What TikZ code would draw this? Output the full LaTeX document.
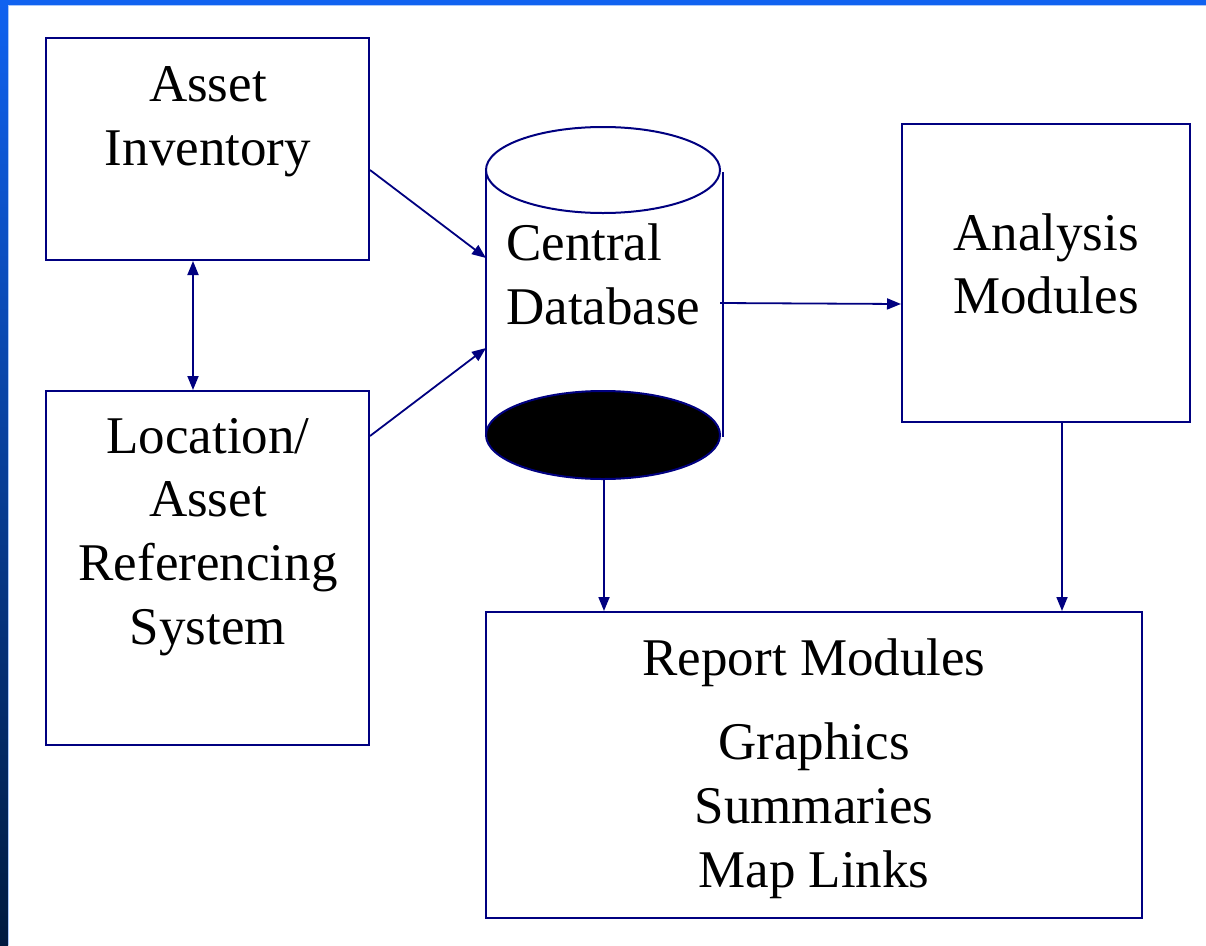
\documentclass[tikz,border=0pt]{standalone}
\usepackage{fontspec}
\setmainfont{Liberation Serif}
\usetikzlibrary{arrows.meta}
\definecolor{navyline}{RGB}{0,0,128}
\definecolor{topblue}{RGB}{16,98,240}
\definecolor{darkblue}{RGB}{0,26,64}
\tikzset{
  box/.style={draw=navyline, line width=2pt, fill=white, rectangle, inner sep=0pt},
  lbl/.style={anchor=base, inner sep=0pt, font=\fontsize{53}{64}\selectfont},
  conn/.style={draw=navyline, line width=1.8pt, -{Triangle[width=11pt,length=14pt]}},
  dconn/.style={draw=navyline, line width=1.8pt, {Triangle[width=11pt,length=14pt]}-{Triangle[width=11pt,length=14pt]}}
}
\begin{document}
\begin{tikzpicture}[x=1pt,y=1pt]
\useasboundingbox (0,0) rectangle (1206,-945);
\fill[white] (0,0) rectangle (1206,-945);
% frame strips
\shade[top color=topblue, bottom color=darkblue] (0,0) rectangle (8,-945);
\fill[topblue] (0,0) rectangle (1206,-5);
\draw[color={rgb,255:red,170;green,200;blue,250}, line width=1pt] (8.5,-5) -- (8.5,-945);
\draw[color={rgb,255:red,170;green,200;blue,250}, line width=1pt] (8,-5.5) -- (1206,-5.5);

% boxes
\node[box, minimum width=323pt, minimum height=222pt] (inv) at (207.5,-149) {};
\node[box, minimum width=323pt, minimum height=354pt] (loc) at (207.5,-568) {};
\node[box, minimum width=288pt, minimum height=298pt] (ana) at (1046,-273) {};
\node[box, minimum width=656pt, minimum height=306pt] (rep) at (814,-765) {};

% cylinder
\draw[navyline, line width=2pt] (486,-170) -- (486,-435);
\draw[navyline, line width=2pt] (723,-172) -- (723,-437);
\draw[navyline, line width=2pt, fill=white] (603,-170) ellipse [x radius=117, y radius=43];
\draw[navyline, line width=2pt, fill=black] (603,-435) ellipse [x radius=117, y radius=44];
\coordinate (dbL1) at (486,-258);
\coordinate (dbL2) at (486,-348);
\coordinate (dbR) at (720,-303);
\coordinate (dbB) at (604,-479);

% labels
\node[lbl] (t1) at (208,-101) {Asset};
\node[lbl] (t2) at (208,-165) {Inventory};
\node[lbl, anchor=base west] (t3) at (506,-260) {Central};
\node[lbl, anchor=base west] (t4) at (506,-324) {Database};
\node[lbl] (t5) at (1046,-250) {Analysis};
\node[lbl] (t6) at (1046,-313) {Modules};
\node[lbl] (t7) at (208,-453) {Location/};
\node[lbl] (t8) at (208,-516) {Asset};
\node[lbl] (t9) at (208,-580) {Referencing};
\node[lbl] (t10) at (208,-644) {System};
\node[lbl] (t11) at (814,-675) {Report Modules};
\node[lbl] (t12) at (814,-759) {Graphics};
\node[lbl] (t13) at (814,-823) {Summaries};
\node[lbl] (t14) at (814,-887) {Map Links};

% connectors
\draw[conn] (inv.east |- 0,-170) -- (dbL1);
\draw[conn] (loc.east |- 0,-436) -- (dbL2);
\draw[dconn] (inv.south -| 193,0) -- (loc.north -| 193,0);
\draw[conn] (dbR) -- (ana.west |- 0,-304);
\draw[conn] (dbB) -- (rep.north -| 604,0);
\draw[conn] (ana.south -| 1062,0) -- (rep.north -| 1062,0);
\end{tikzpicture}
\end{document}
